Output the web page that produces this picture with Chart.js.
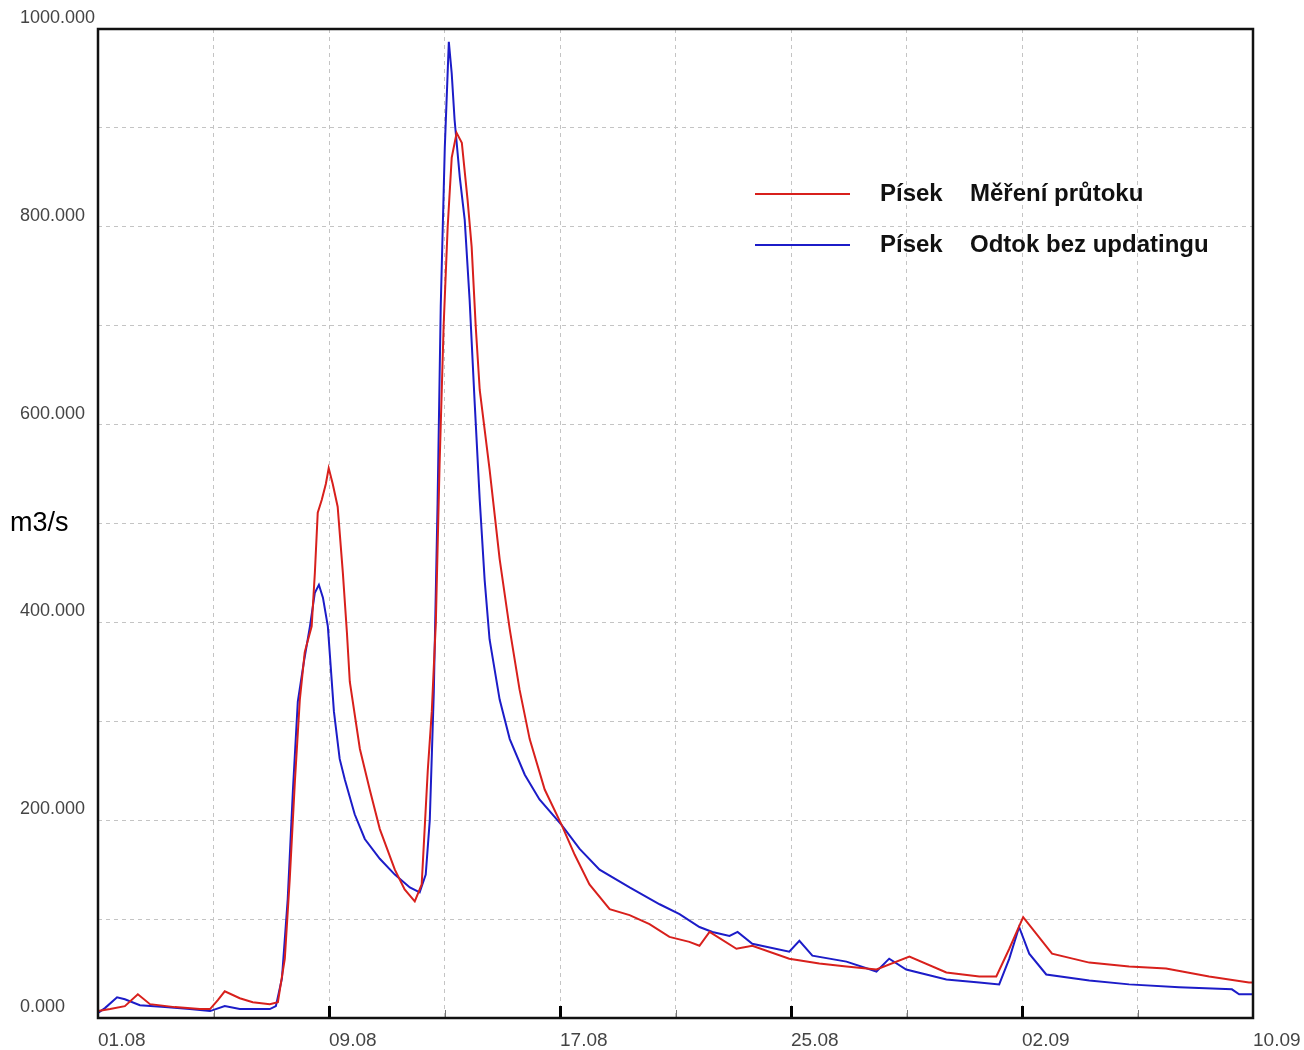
<!DOCTYPE html>
<html>
<head>
<meta charset="utf-8">
<script src="https://cdn.jsdelivr.net/npm/chart.js@4.4.1/dist/chart.umd.min.js"></script>
<style>
  html, body { margin: 0; padding: 0; background: #fff; }
  #wrap { width: 1304px; height: 1050px; }
</style>
</head>
<body>
<div id="wrap"><canvas id="flowChart" width="1304" height="1050"></canvas></div>
<script>
// days since 01.08, flow in m3/s
var dateLabels = ["01.08", "09.08", "17.08", "25.08", "02.09", "10.09"];
var stationName = "Písek";
var seriesNames = ["Měření průtoku", "Odtok bez updatingu"];

var measuredDays = [0, 0.42, 0.93, 1.38, 1.8, 2.66, 3.53, 3.88, 4.15, 4.39, 4.91, 5.36, 5.95, 6.23, 6.47, 6.64, 6.82, 6.99, 7.16, 7.4, 7.51, 7.61, 7.75, 7.89, 7.99, 8.13, 8.3, 8.48, 8.62, 8.72, 9.07, 9.41, 9.76, 10.28, 10.62, 10.97, 11.21, 11.42, 11.56, 11.7, 11.83, 11.97, 12.11, 12.25, 12.42, 12.6, 12.8, 12.94, 13.08, 13.22, 13.56, 13.91, 14.26, 14.6, 14.95, 15.47, 16.06, 16.51, 17.02, 17.72, 18.41, 19.1, 19.79, 20.48, 20.83, 21.18, 22.11, 22.66, 23.94, 24.98, 25.92, 26.96, 28.1, 29.38, 30.52, 31.11, 31.56, 32.04, 33.04, 34.33, 35.71, 36.99, 38.48, 39.86, 40];
var measuredFlow = [7, 9, 12, 24, 14, 11, 9, 9, 18, 27, 20, 16, 14, 16, 60, 140, 240, 322, 370, 396, 450, 511, 524, 540, 556, 540, 517, 450, 390, 340, 272, 231, 191, 150, 130, 118, 135, 250, 310, 400, 560, 700, 800, 870, 895, 885, 827, 780, 700, 635, 555, 464, 393, 332, 282, 231, 195, 165, 135, 110, 104, 95, 82, 77, 73, 87, 70, 73, 60, 55, 52, 49, 62, 46, 42, 42, 70, 102, 65, 56, 52, 50, 42, 36, 36];

var modelDays = [0, 0.24, 0.66, 0.93, 1.45, 2.32, 3.18, 3.88, 4.39, 4.91, 5.95, 6.16, 6.37, 6.57, 6.75, 6.92, 7.13, 7.34, 7.51, 7.65, 7.79, 7.96, 8.17, 8.37, 8.55, 8.89, 9.24, 9.76, 10.28, 10.8, 11.14, 11.35, 11.49, 11.63, 11.76, 11.87, 12.01, 12.15, 12.25, 12.35, 12.53, 12.7, 12.87, 13.04, 13.22, 13.39, 13.56, 13.91, 14.26, 14.78, 15.29, 16.06, 16.68, 17.37, 18.41, 19.45, 20.14, 20.83, 21.28, 21.87, 22.15, 22.66, 23.94, 24.29, 24.74, 25.92, 26.96, 27.4, 27.99, 29.38, 30.52, 31.21, 31.56, 31.9, 32.25, 32.84, 34.33, 35.71, 37.44, 39.27, 39.52, 40];
var modelFlow = [5, 10, 21, 19, 13, 11, 9, 7, 12, 9, 9, 12, 40, 120, 230, 320, 360, 396, 430, 438, 425, 396, 310, 262, 241, 206, 181, 161, 145, 132, 127, 145, 200, 330, 520, 720, 880, 987, 955, 908, 850, 807, 726, 625, 524, 443, 383, 322, 282, 246, 221, 195, 171, 150, 132, 115, 105, 92, 87, 83, 87, 75, 67, 78, 63, 57, 47, 60, 49, 39, 36, 34, 60, 92, 65, 44, 38, 34, 31, 29, 24, 24];

var redColor = "#d8201c";
var blueColor = "#1c1cc8";

var toPoints = function(days, flow){
	var pts = [];
	for(var i=0; i<days.length; i++){
		pts.push({x: days[i], y: flow[i]});
	}
	return pts;
};

// border, inner ticks, y unit and legend
var decorPlugin = {
	id: "decor",
	afterDraw: function(chart){
		var ctx = chart.ctx;
		var a = chart.chartArea;
		var xs = chart.scales.x, ys = chart.scales.y;
		ctx.save();

		// small ticks inside the bottom edge
		for(var d=4; d<40; d+=4){
			var px = Math.round(xs.getPixelForValue(d)) + 0.5;
			var major = d % 8 === 0;
			ctx.strokeStyle = major ? "#000" : "#777";
			ctx.lineWidth = major ? 3 : 1;
			ctx.beginPath();
			ctx.moveTo(px, a.bottom);
			ctx.lineTo(px, a.bottom - (major ? 12 : 8));
			ctx.stroke();
		}

		ctx.strokeStyle = "#111";
		ctx.lineWidth = 2.5;
		ctx.strokeRect(a.left, a.top, a.right - a.left, a.bottom - a.top);

		ctx.fillStyle = "#000";
		ctx.font = "27px 'Liberation Sans'";
		ctx.textBaseline = "middle";
		ctx.textAlign = "left";
		ctx.fillText("m3/s", 10, ys.getPixelForValue(500));

		var colors = [redColor, blueColor];
		var rows = [194, 245];
		ctx.font = "bold 24px 'Liberation Sans'";
		for(var i=0; i<2; i++){
			ctx.strokeStyle = colors[i];
			ctx.lineWidth = 2;
			ctx.beginPath();
			ctx.moveTo(755, rows[i]);
			ctx.lineTo(850, rows[i]);
			ctx.stroke();
			ctx.fillStyle = "#111";
			ctx.fillText(stationName, 880, rows[i]);
			ctx.fillText(seriesNames[i], 970, rows[i]);
		}
		ctx.restore();
	}
};

var flowCanvas = document.getElementById("flowChart").getContext("2d");
var flowChart = new Chart(flowCanvas, {
	type: "line",
	data: {
		datasets: [
			{
				label: stationName + " " + seriesNames[0],
				data: toPoints(measuredDays, measuredFlow),
				borderColor: redColor,
				borderWidth: 2,
				pointRadius: 0,
				tension: 0,
				fill: false
			},
			{
				label: stationName + " " + seriesNames[1],
				data: toPoints(modelDays, modelFlow),
				borderColor: blueColor,
				borderWidth: 2,
				pointRadius: 0,
				tension: 0,
				fill: false
			}
		]
	},
	options: {
		responsive: false,
		animation: false,
		layout: { padding: { left: 20, top: 29, right: 51, bottom: 0 } },
		plugins: {
			legend: { display: false },
			tooltip: { enabled: false }
		},
		scales: {
			x: {
				type: "linear",
				min: 0,
				max: 40,
				afterFit: function(scale){ scale.height = 32; scale.paddingRight = 0; },
				grid: { color: "#c4c4c4", drawTicks: false },
				border: { display: false, dash: [4, 4] },
				ticks: {
					stepSize: 4,
					align: "start",
					padding: 11,
					color: "#444",
					font: { size: 19 },
					maxRotation: 0,
					autoSkip: false,
					callback: function(v){
						return v % 8 === 0 ? dateLabels[v / 8] : "";
					}
				}
			},
			y: {
				min: 0,
				max: 1000,
				afterFit: function(scale){ scale.width = 78; },
				grid: { color: "#c4c4c4", drawTicks: false },
				border: { display: false, dash: [4, 4] },
				ticks: {
					stepSize: 100,
					crossAlign: "far",
					labelOffset: -11,
					color: "#444",
					font: { size: 18 },
					callback: function(v){
						return v % 200 === 0 ? v.toFixed(3) : "";
					}
				}
			}
		}
	},
	plugins: [decorPlugin]
});
</script>
</body>
</html>
